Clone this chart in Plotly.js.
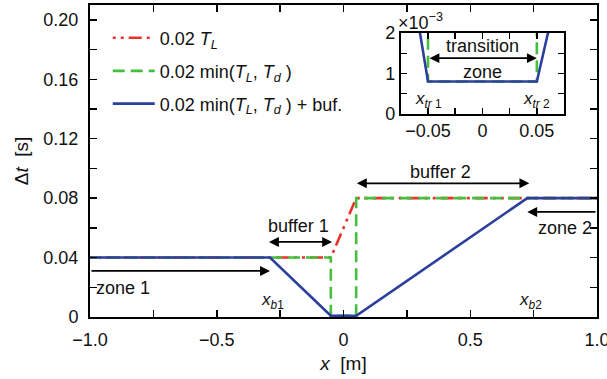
<!DOCTYPE html>
<html><head><meta charset="utf-8">
<script src="https://cdn.plot.ly/plotly-3.0.1.min.js"></script>
<style>body{margin:0;padding:0;background:#fff}#chart{width:607px;height:379px}</style>
</head><body><div id="chart"></div>
<script>
// ---- data ----
const xRed   = [-1, -0.05, 0.05, 1];
const yRed   = [0.04, 0.04, 0.08, 0.08];
const xGreen = [-1, -0.05, -0.05, 0.05, 0.05, 1];
const yGreen = [0.04, 0.04, 0.0008, 0.0008, 0.08, 0.08];
const xBlue  = [-1, -0.29, -0.05, 0.05, 0.725, 1];
const yBlue  = [0.04, 0.04, 0.0008, 0.0008, 0.08, 0.08];
const seriesNames = ['0.02 <i>T</i><sub><i>L</i></sub>',
  '0.02 min(<i>T</i><sub><i>L</i></sub>, <i>T</i><sub><i>d</i></sub> )',
  '0.02 min(<i>T</i><sub><i>L</i></sub>, <i>T</i><sub><i>d</i></sub> ) + buf.'];
const xTickVals = [-1, -0.75, -0.5, -0.25, 0, 0.25, 0.5, 0.75, 1];
const xTickText = ['−1.0', '', '−0.5', '', '0', '', '0.5', '', '1.0'];
const yTickVals = [0, 0.02, 0.04, 0.06, 0.08, 0.10, 0.12, 0.14, 0.16, 0.18, 0.20];
const yTickText = ['0', '', '0.04', '', '0.08', '', '0.12', '', '0.16', '', '0.20'];
const x2TickVals = [-0.05, -0.025, 0, 0.025, 0.05];
const x2TickText = ['−0.05', '', '0', '', '0.05'];
const y2TickVals = [0, 0.0005, 0.001, 0.0015, 0.002];
const y2TickText = ['0', '', '1', '', '2'];

const RED = '#e8322b', GREEN = '#45bf3e', BLUE = '#2c3f9c';
const FONT = 'Liberation Sans, Arial, Helvetica, sans-serif';

function tr(x, y, name, color, dash, xa, ya, show, grp, leg) {
  return {x: x, y: y, name: name, type: 'scatter', mode: 'lines',
    line: {color: color, width: 2.6, dash: dash},
    xaxis: xa, yaxis: ya, showlegend: show, legendgroup: grp, legend: leg};
}
const DASHDOT = '3px,5px,3px,5px,13px,5px';
const DASH = '12px,6px';
const traces = [
  tr(xRed, yRed, seriesNames[0], RED, DASHDOT, 'x', 'y', true, 'a', 'legend'),
  tr(xGreen, yGreen, seriesNames[1], GREEN, DASH, 'x', 'y', true, 'b', 'legend2'),
  tr(xBlue, yBlue, seriesNames[2], BLUE, 'solid', 'x', 'y', true, 'c', 'legend3'),
  tr(xRed, yRed, seriesNames[0], RED, DASHDOT, 'x2', 'y2', false, 'a', 'legend'),
  tr(xGreen, yGreen, seriesNames[1], GREEN, DASH, 'x2', 'y2', false, 'b', 'legend2'),
  tr(xBlue, yBlue, seriesNames[2], BLUE, 'solid', 'x2', 'y2', false, 'c', 'legend3')
];

const axBase = {showgrid: false, zeroline: false, showline: true, linecolor: '#000', linewidth: 2,
  mirror: 'ticks', ticks: 'inside', ticklen: 7, tickwidth: 1.5, tickcolor: '#000',
  tickfont: {family: FONT, size: 18, color: '#111'}, tickmode: 'array'};

function arrow(x0, x1, y, both, ref) {
  return {x: x1, y: y, ax: x0, ay: y, xref: ref[0], yref: ref[1], axref: ref[0], ayref: ref[1],
    text: '', showarrow: true, arrowhead: 2, arrowsize: 1.1, arrowwidth: 1.8, arrowcolor: '#000',
    arrowside: both ? 'end+start' : 'end', standoff: 0, startstandoff: 0};
}
function label(x, y, text, ref, xanchor, size) {
  return {x: x, y: y, xref: ref[0], yref: ref[1], text: text, showarrow: false,
    xanchor: xanchor || 'center', yanchor: 'middle', font: {family: FONT, size: size || 18, color: '#111'}};
}
const M = ['x', 'y'], I = ['x2', 'y2'];
const annotations = [
  arrow(-0.3, -0.045, 0.0505, true, M),
  label(-0.178, 0.0613, 'buffer 1', M),
  arrow(0.047, 0.733, 0.090, true, M),
  label(0.383, 0.0976, 'buffer 2', M),
  arrow(-1, -0.29, 0.031, false, M),
  label(-0.985, 0.0195, 'zone 1', M, 'left'),
  arrow(1, 0.725, 0.0707, false, M),
  label(0.988, 0.060, 'zone 2', M, 'right'),
  label(-0.28, 0.011, '<i>x</i><sub><i>b</i>1</sub>', M, 'center', 17),
  label(0.737, 0.011, '<i>x</i><sub><i>b</i>2</sub>', M, 'center', 17),
  arrow(-0.05, 0.05, 0.00138, true, I),
  label(0, 0.00168, 'transition', I),
  label(0, 0.00104, 'zone', I),
  label(-0.05, 0.00035, '<i>x</i><sub><i>tr</i> 1</sub>', I, 'center', 17),
  label(0.05, 0.00035, '<i>x</i><sub><i>tr</i> 2</sub>', I, 'center', 17),
  {x: 0.613, y: 0.910, xref: 'paper', yref: 'paper', text: '×10<sup>−3</sup>',
    showarrow: false, xanchor: 'left', yanchor: 'bottom', xshift: -5, yshift: -2,
    font: {family: FONT, size: 18, color: '#111'}}
];

function leg(y) {
  return {x: 0.035, y: y, xanchor: 'left', yanchor: 'middle', bgcolor: 'rgba(0,0,0,0)',
    font: {family: FONT, size: 18, color: '#111'}, itemwidth: 42};
}

const layout = {
  width: 607, height: 379,
  margin: {l: 90, r: 10, t: 5, b: 62},
  paper_bgcolor: '#fff', plot_bgcolor: '#fff',
  font: {family: FONT, size: 18, color: '#111'},
  xaxis: Object.assign({}, axBase, {range: [-1, 1], tickvals: xTickVals, ticktext: xTickText,
    ticklabelstandoff: 5, ticklabeloverflow: 'allow',
    title: {text: '<i>x</i>  [m]', font: {family: FONT, size: 19, color: '#111'}, standoff: 8}}),
  yaxis: Object.assign({}, axBase, {range: [0, 0.21], tickvals: yTickVals, ticktext: yTickText,
    ticklabelstandoff: 6,
    title: {text: 'Δ<i>t</i>  [s]', font: {family: FONT, size: 19, color: '#111'}, standoff: 10}}),
  xaxis2: Object.assign({}, axBase, {domain: [0.613, 0.935], range: [-0.075, 0.075], anchor: 'y2',
    tickvals: x2TickVals, ticktext: x2TickText, ticklen: 6}),
  yaxis2: Object.assign({}, axBase, {domain: [0.651, 0.910], range: [0, 0.002], anchor: 'x2',
    tickvals: y2TickVals, ticktext: y2TickText, ticklen: 6}),
  legend: leg(0.894),
  legend2: leg(0.788),
  legend3: leg(0.683),
  annotations: annotations
};
Plotly.newPlot('chart', traces, layout, {displayModeBar: false, staticPlot: true});
</script></body></html>
